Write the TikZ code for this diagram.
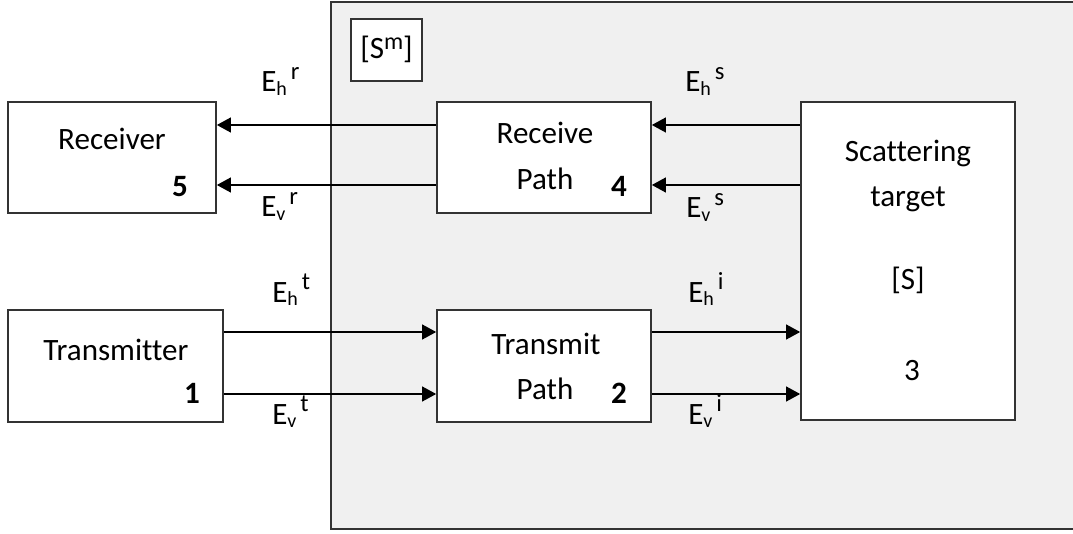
\documentclass[tikz,border=0pt]{standalone}
\usepackage{fontspec}
\setmainfont[Ligatures=NoCommon]{Carlito}
\usetikzlibrary{fit,arrows.meta}
\newcommand\fldlo[1]{\raisebox{-2.5pt}{\fontsize{15}{15}\selectfont #1}}
\newcommand\fldhi[1]{\kern3pt\raisebox{9.5pt}{\fontsize{18.5}{18.5}\selectfont #1}}
\tikzset{
  box/.style={draw=black!80, line width=1.2pt, fill=white, inner sep=0pt},
  sysbox/.style={draw=black!80, line width=1.2pt, fill=black!6, inner sep=0pt},
  sig/.style={line width=1.5pt, -{Triangle[length=10.5pt, width=11pt]}},
  txt/.style={inner sep=0pt, anchor=base, font=\fontsize{23.3}{28}\selectfont},
  num/.style={txt, font=\fontsize{23.3}{28}\selectfont\bfseries},
  lbl/.style={inner sep=0pt, anchor=base west, font=\fontsize{23.3}{28}\selectfont}
}
\begin{document}
\begin{tikzpicture}[x=0.75pt, y=-0.75pt]
\useasboundingbox (0,0) rectangle (1073,534);
% measurement system enclosure
\node[sysbox, fit={(331,2)(1078,529)}] (sys) {};
\node[box, fit={(351,19)(422,81)}] (smbox) {};
\node[txt] (sm) at (386.5,59) {[S\raisebox{7pt}{\fontsize{18}{18}\selectfont m}]};
% blocks
\node[box, fit={(8,102)(216,213)}] (rx) {};
\node[box, fit={(437,102)(651,213)}] (rp) {};
\node[box, fit={(801,102)(1015,420)}] (tg) {};
\node[box, fit={(8,310)(223,422)}] (tx) {};
\node[box, fit={(437,310)(651,422)}] (tp) {};
% block texts
\node[txt] (rxt) at (112,150) {Receiver};
\node[num] (rxn) at (180,197) {5};
\node[txt] (rpt1) at (545,144) {Receive};
\node[txt] (rpt2) at (545,190) {Path};
\node[num] (rpn) at (619,197) {4};
\node[txt] (tgt1) at (908,162) {Scattering};
\node[txt] (tgt2) at (908,207) {target};
\node[txt] (tgs) at (908,290) {[S]};
\node[txt] (tgn) at (912,380) {3};
\node[txt] (txt1) at (116,360) {Transmitter};
\node[num] (txn) at (192,403) {1};
\node[txt] (tpt1) at (546,354) {Transmit};
\node[txt] (tpt2) at (545,399) {Path};
\node[num] (tpn) at (619,403) {2};
% signal paths
\draw[sig] (rp.west |- 0,125) -- (rx.east |- 0,125);
\draw[sig] (rp.west |- 0,185) -- (rx.east |- 0,185);
\draw[sig] (tg.west |- 0,125) -- (rp.east |- 0,125);
\draw[sig] (tg.west |- 0,185) -- (rp.east |- 0,185);
\draw[sig] (tx.east |- 0,332) -- (tp.west |- 0,332);
\draw[sig] (tx.east |- 0,394) -- (tp.west |- 0,394);
\draw[sig] (tp.east |- 0,332) -- (tg.west |- 0,332);
\draw[sig] (tp.east |- 0,394) -- (tg.west |- 0,394);
% field labels
\node[lbl] (ehr) at (261,92) {E\fldlo{h}\fldhi{r}};
\node[lbl] (evr) at (261,217) {E\fldlo{v}\fldhi{r}};
\node[lbl] (ehs) at (685,92) {E\fldlo{h}\fldhi{s}};
\node[lbl] (evs) at (686,218) {E\fldlo{v}\fldhi{s}};
\node[lbl] (eht) at (272,302) {E\fldlo{h}\fldhi{t}};
\node[lbl] (evt) at (272,424) {E\fldlo{v}\fldhi{t}};
\node[lbl] (ehi) at (688,302) {E\fldlo{h}\fldhi{i}};
\node[lbl] (evi) at (688,424) {E\fldlo{v}\fldhi{i}};
\end{tikzpicture}
\end{document}
